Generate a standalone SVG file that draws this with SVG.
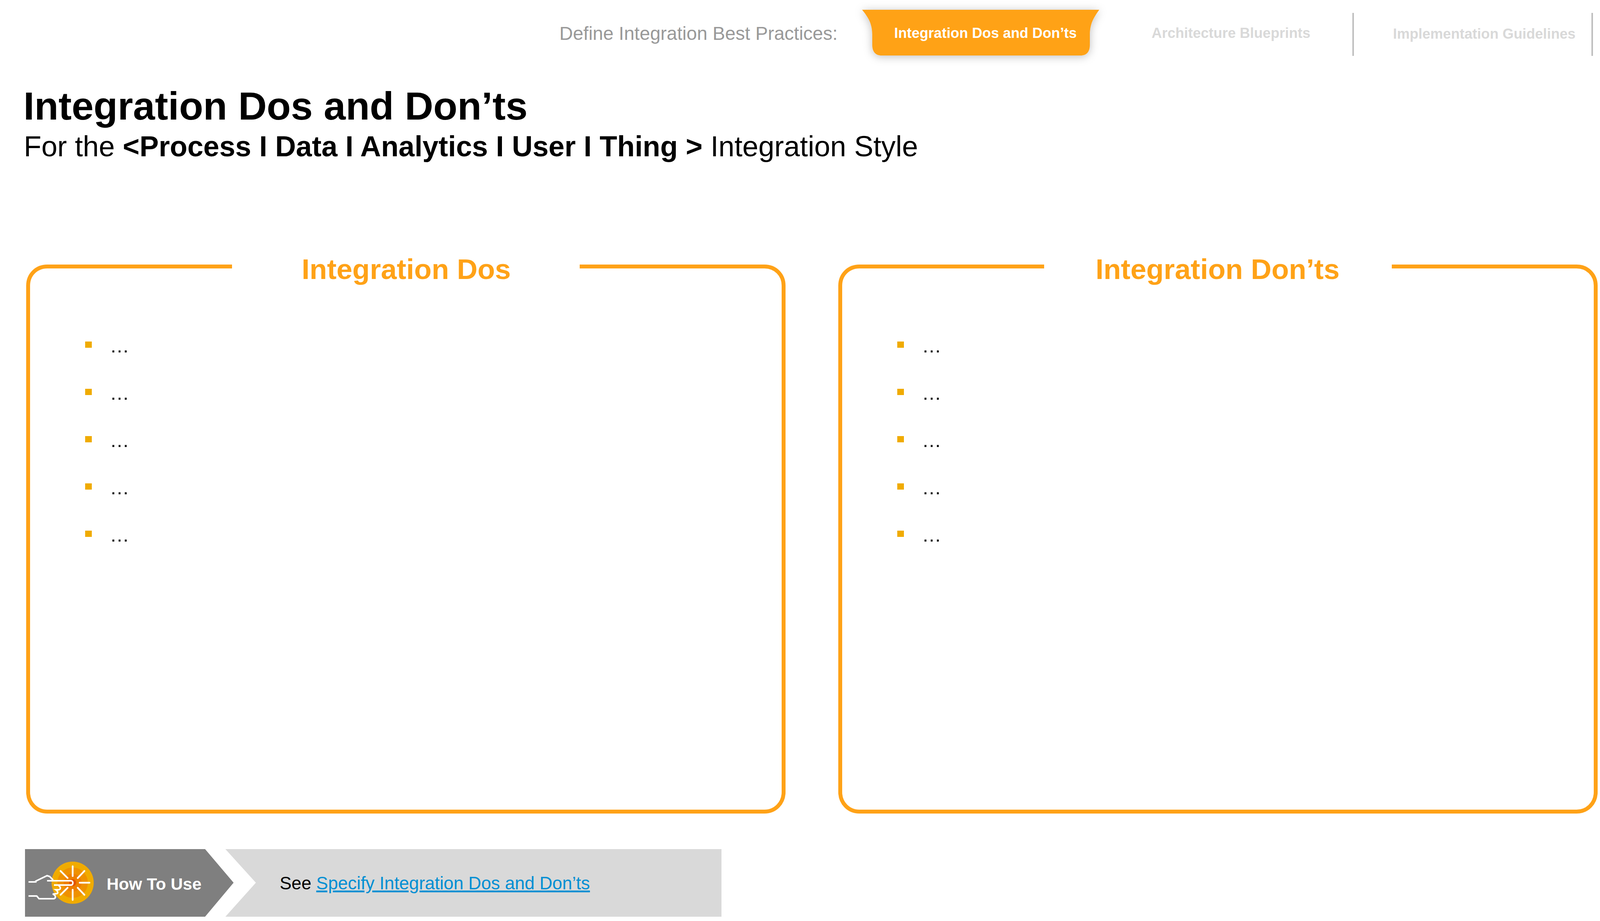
<svg xmlns="http://www.w3.org/2000/svg" width="4123" height="2357" viewBox="0 0 4123 2357">
<style>
text{font-family:"Liberation Sans",Arial,sans-serif}
.b{font-weight:700}
.frame{fill:none;stroke:#FFA217;stroke-width:10}
.head{font-weight:700;font-size:73px;fill:#FFA217;text-anchor:middle}
.bul{fill:#F0AB00}
.dots{font-size:50px;fill:#000}
.nav{font-weight:700;font-size:36.6px}
.sep{stroke:#BFBFBF;stroke-width:4}
.ray{stroke:#fff;stroke-width:4.5;stroke-linecap:round;fill:none}
.hand{stroke:#fff;stroke-width:4;fill:none}
</style>
<defs>
<filter id="sh" x="-15%" y="-40%" width="130%" height="180%"><feDropShadow dx="0" dy="3" stdDeviation="11" flood-color="#000" flood-opacity="0.25"/></filter>
<g id="bullets">
<rect class="bul" x="218" y="874" width="17" height="16"/>
<text class="dots" x="281" y="902">…</text>
</g>
</defs>
<rect width="4123" height="2357" fill="#fff"/>
<g id="nav">
<text x="1432" y="102" font-size="48" fill="#999999">Define Integration Best Practices:</text>
<g id="tab-active">
<path d="M2207 25H2814C2800 45 2790 60 2790 90V115C2790 132 2782 142 2766 142H2257C2241 142 2233 132 2233 115V90C2233 60 2223 45 2207 25Z" fill="#FFA217" filter="url(#sh)"/>
<text class="nav" x="2289" y="97" fill="#fff">Integration Dos and Don’ts</text>
</g>
<text class="nav" x="2948" y="97" fill="#D9D9D9">Architecture Blueprints</text>
<line class="sep" x1="3464" y1="33" x2="3464" y2="143"/>
<text class="nav" x="3566" y="99" fill="#D9D9D9">Implementation Guidelines</text>
<line class="sep" x1="4076" y1="33" x2="4076" y2="143"/>
</g>
<g id="title">
<text x="60" y="306" font-size="101" class="b" fill="#000">Integration Dos and Don’ts</text>
<text x="61" y="400" font-size="73.5" fill="#000">For the <tspan class="b">&lt;Process I Data I Analytics I User I Thing &gt;</tspan> Integration Style</text>
</g>
<g id="dos">
<path class="frame" d="M594 682H121C93 682 72 703 72 731V2027C72 2055 93 2077 121 2077H1957C1985 2077 2006 2055 2006 2027V731C2006 703 1985 682 1957 682H1484"/>
<text class="head" x="1040" y="714">Integration Dos</text>
<use href="#bullets"/>
<use href="#bullets" y="121"/>
<use href="#bullets" y="242"/>
<use href="#bullets" y="363"/>
<use href="#bullets" y="484"/>
</g>
<g id="donts">
<path class="frame" d="M2673 682H2200C2172 682 2151 703 2151 731V2027C2151 2055 2172 2077 2200 2077H4036C4064 2077 4085 2055 4085 2027V731C4085 703 4064 682 4036 682H3563"/>
<text class="head" x="3117" y="714">Integration Don’ts</text>
<use href="#bullets" x="2079"/>
<use href="#bullets" x="2079" y="121"/>
<use href="#bullets" x="2079" y="242"/>
<use href="#bullets" x="2079" y="363"/>
<use href="#bullets" x="2079" y="484"/>
</g>
<g id="how-to-use">
<path d="M64 2173H525L598 2259L525 2346H64Z" fill="#7F7F7F"/>
<path d="M577 2173H1847V2346H577L655 2259Z" fill="#D9D9D9"/>
<g id="icon">
<circle cx="186" cy="2259" r="54" fill="#F0AB00"/>
<circle cx="186" cy="2259" r="39" fill="#EF9100"/>
<circle cx="186" cy="2259" r="23" fill="#EE7F00"/>
<circle cx="186" cy="2259" r="9" fill="#E35500"/>
<path class="ray" d="M186 2217V2242M186 2277V2303M155 2229L173 2247M216 2229L199 2247M155 2290L173 2272M216 2290L199 2272M204 2259H229"/>
<path class="hand" d="M73 2257H91.500V2255L120.500 2241L127 2243L136 2252"/>
<path class="hand" d="M120.500 2254H182C188 2254 188 2265 182 2265H138"/>
<path class="hand" d="M150 2267C156 2270 156 2276 150 2277H143C149 2281 149 2287 145 2287L135 2288C143 2291 144 2298 138 2300H100L94 2293H73"/>
</g>
<text class="b" x="273" y="2277" font-size="43" fill="#fff">How To Use</text>
<text x="716" y="2276" font-size="45.500" fill="#000">See <tspan fill="#008FD3" text-decoration="underline">Specify Integration Dos and Don’ts</tspan></text>
</g>
</svg>
